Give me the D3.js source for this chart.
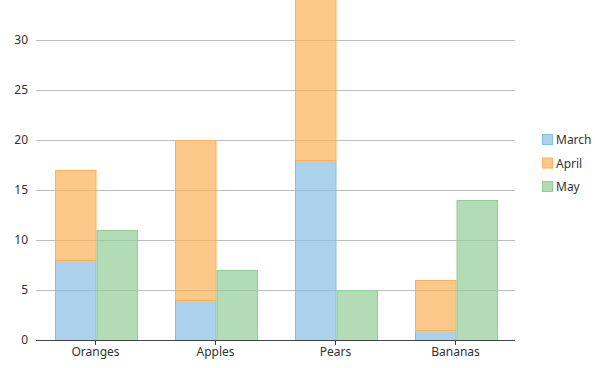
<!DOCTYPE html>
<html>
<head>
<meta charset="utf-8">
<script src="https://cdn.jsdelivr.net/npm/d3@7"></script>
<style>
  body { margin: 0; background: #fff; }
  svg { display: block; font-family: "Noto Sans", "Open Sans", sans-serif; }
</style>
</head>
<body>
<div class="chart"></div>
<script>
// Data
var categories = ["Oranges", "Apples", "Pears", "Bananas"];
var march = [8, 4, 18, 1];
var april = [9, 16, 17, 5];
var may = [11, 7, 5, 14];
var seriesNames = ["March", "April", "May"];
var yTicks = [0, 5, 10, 15, 20, 25, 30];

var colors = { March: "#88bde6", April: "#fbb258", May: "#90cd97" };

var width = 595, height = 368;
var plot = { left: 36, right: 515, top: 0, bottom: 340 };

var svg = d3.select(".chart").append("svg")
    .attr("width", width)
    .attr("height", height);

// one band per category, bars are laid out inside it
var band = d3.scaleBand()
    .domain(categories)
    .range([plot.left - 1, plot.right]);
var groupWidth = 83;
var barWidth = groupWidth / 2;

var y = d3.scaleLinear()
    .domain([0, 34])
    .range([plot.bottom, plot.top]);

// gridlines
svg.append("g")
    .selectAll("line")
    .data(yTicks.filter(function(d) { return d > 0; }))
    .join("line")
        .attr("x1", plot.left)
        .attr("x2", plot.right)
        .attr("y1", function(d) { return Math.round(y(d)) + 0.5; })
        .attr("y2", function(d) { return Math.round(y(d)) + 0.5; })
        .attr("stroke", "#bdbdbd")
        .attr("stroke-width", 1);

// y labels
svg.append("g")
    .selectAll("text")
    .data(yTicks)
    .join("text")
        .attr("x", 28)
        .attr("y", function(d) { return y(d) + 4; })
        .attr("text-anchor", "end")
        .attr("font-size", 12)
        .attr("fill", "#333")
        .text(function(d) { return d; });

// build rects: March+April stacked, May beside them
var rects = [];
categories.forEach(function(c, i) {
    var cx = band(c) + band.bandwidth() / 2;
    var left = Math.round(cx - groupWidth / 2) + 1;
    rects.push({ s: "March", x: left, y0: 0, y1: march[i] });
    rects.push({ s: "April", x: left, y0: march[i], y1: march[i] + april[i] });
    rects.push({ s: "May", x: left + barWidth, y0: 0, y1: may[i] });
});

svg.append("defs").append("clipPath").attr("id", "plotclip")
    .append("rect")
        .attr("x", plot.left).attr("y", plot.top)
        .attr("width", plot.right - plot.left)
        .attr("height", plot.bottom - plot.top);

svg.append("g")
    .attr("clip-path", "url(#plotclip)")
    .selectAll("rect")
    .data(rects)
    .join("rect")
        .attr("x", function(d) { return d.x + 0.5; })
        .attr("y", function(d) { return y(d.y1) + 0.5; })
        .attr("width", barWidth - 1)
        .attr("height", function(d) { return y(d.y0) - y(d.y1); })
        .attr("fill", function(d) { return colors[d.s]; })
        .attr("fill-opacity", 0.7)
        .attr("stroke", function(d) { return colors[d.s]; })
        .attr("stroke-width", 1);

// x axis
var xAxis = svg.append("g");
xAxis.append("line")
    .attr("x1", plot.left)
    .attr("x2", plot.right)
    .attr("y1", plot.bottom + 0.5)
    .attr("y2", plot.bottom + 0.5)
    .attr("stroke", "#444")
    .attr("stroke-width", 1);
var tk = xAxis.selectAll("g.tick")
    .data(categories)
    .join("g")
        .attr("class", "tick")
        .attr("transform", function(c) { return "translate(" + (Math.round(band(c) + band.bandwidth() / 2) + 0.5) + ",0)"; });
tk.append("line")
    .attr("y1", plot.bottom)
    .attr("y2", plot.bottom + 5)
    .attr("stroke", "#444");
tk.append("text")
    .attr("y", plot.bottom + 16)
    .attr("text-anchor", "middle")
    .attr("font-size", 12)
    .attr("fill", "#333")
    .text(function(c) { return c; });

// legend
var legend = svg.append("g").attr("transform", "translate(542,134)");
var li = legend.selectAll("g")
    .data(seriesNames)
    .join("g")
        .attr("transform", function(d, i) { return "translate(0," + (i * 23.5) + ")"; });
li.append("rect")
    .attr("x", 0.5).attr("y", 0.5)
    .attr("width", 10).attr("height", 10)
    .attr("fill", function(d) { return colors[d]; })
    .attr("fill-opacity", 0.7)
    .attr("stroke", function(d) { return colors[d]; });
li.append("text")
    .attr("x", 14)
    .attr("y", 10)
    .attr("font-size", 12)
    .attr("fill", "#333")
    .text(function(d) { return d; });
</script>
</body>
</html>
